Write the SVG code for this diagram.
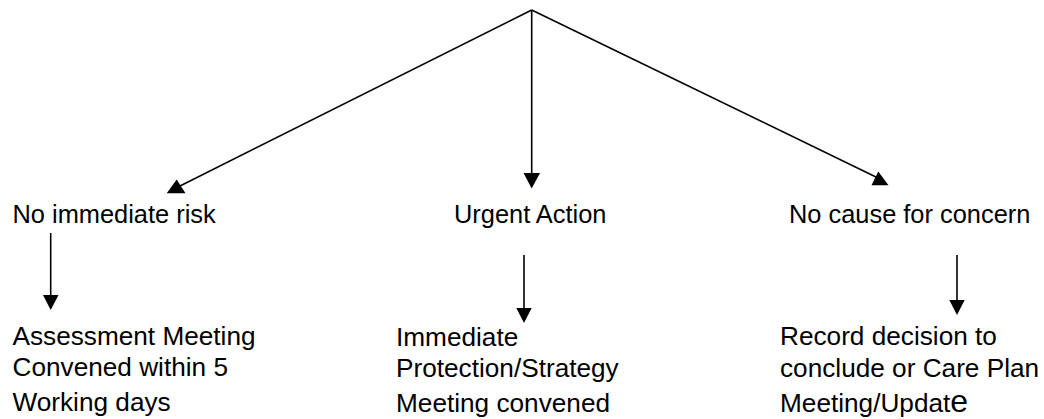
<svg xmlns="http://www.w3.org/2000/svg" width="1044" height="419" viewBox="0 0 1044 419">
<style>
  .t { font-family: "Liberation Sans", Arial, sans-serif; font-size: 25.4px; fill: #000; }
  .t2 { font-size: 26.2px; }
  .ln { stroke: #000; stroke-width: 1.6; fill: none; }
  .hd { fill: #000; stroke: none; }
  .big { font-size: 32px; }
</style>
<rect width="1044" height="419" fill="#fff"/>
<g id="connectors">
  <line class="ln" x1="531.7" y1="10" x2="180" y2="186"/>
  <polygon class="hd" points="166.7,193.3 185.5,193.3 176.7,179.5"/>
  <line class="ln" x1="531.7" y1="10" x2="531.7" y2="175"/>
  <polygon class="hd" points="523.5,173 540,173 531.7,188.5"/>
  <line class="ln" x1="531.7" y1="10" x2="878" y2="178"/>
  <polygon class="hd" points="871.5,185.3 888.5,185.3 878.3,171.5"/>
  <line class="ln" x1="50.7" y1="233" x2="50.7" y2="297"/>
  <polygon class="hd" points="43,295 58.5,295 50.7,310"/>
  <line class="ln" x1="524" y1="255" x2="524" y2="310"/>
  <polygon class="hd" points="516.3,308 531.7,308 524,323"/>
  <line class="ln" x1="957" y1="255" x2="957" y2="302"/>
  <polygon class="hd" points="949.3,300 964.7,300 957,315"/>
</g>
<g id="n1"><text class="t" x="12.5" y="223">No immediate risk</text></g>
<g id="n2"><text class="t" x="454" y="223">Urgent Action</text></g>
<g id="n3"><text class="t" x="789" y="223">No cause for concern</text></g>
<g id="n4">
  <text class="t t2" x="12.5" y="345">Assessment Meeting</text>
  <text class="t t2" x="12.5" y="376">Convened within 5</text>
  <text class="t t2" x="12.5" y="411">Working days</text>
</g>
<g id="n5">
  <text class="t t2" x="396" y="346">Immediate</text>
  <text class="t t2" x="396" y="377">Protection/Strategy</text>
  <text class="t t2" x="396" y="412">Meeting convened</text>
</g>
<g id="n6">
  <text class="t t2" x="780" y="345">Record decision to</text>
  <text class="t t2" x="780" y="377">conclude or Care Plan</text>
  <text class="t t2" x="780" y="412">Meeting/Updat<tspan class="big">e</tspan></text>
</g>
</svg>
